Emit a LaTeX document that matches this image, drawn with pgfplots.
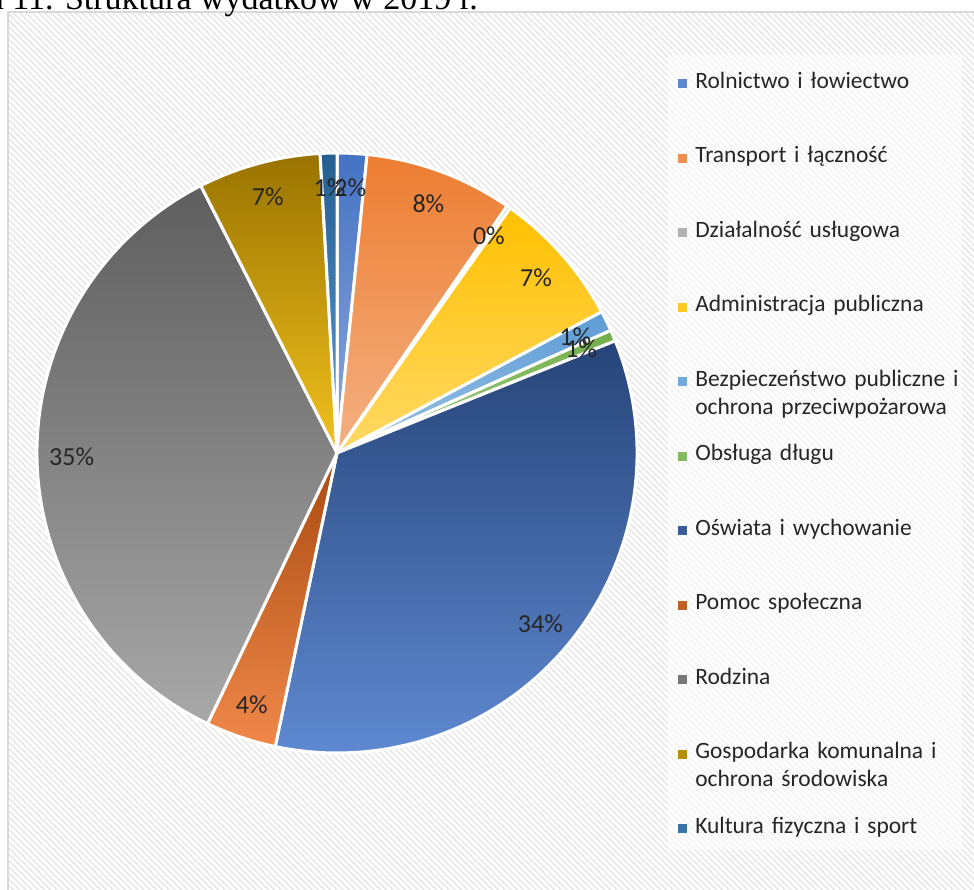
\documentclass[border=0pt]{standalone}
\usepackage{pgfplots}
\pgfplotsset{compat=1.18}
\usepackage{pgfplotstable}
\usepackage{fontspec}
\setmainfont{Carlito}
\newfontfamily\timesfont{Liberation Serif}
\usetikzlibrary{patterns.meta}

\pgfplotstableread[col sep=comma]{
name,value
Rolnictwo i łowiectwo,1.6
Transport i łączność,8.0
Działalność usługowa,0.2
Administracja publiczna,7.4
Bezpieczeństwo publiczne i ochrona przeciwpożarowa,1.1
Obsługa długu,0.6
Oświata i wychowanie,34.4
Pomoc społeczna,3.8
Rodzina,35.4
Gospodarka komunalna i ochrona środowiska,6.6
Kultura fizyczna i sport,0.9
}\piedata

% slice gradient colours: top (t) and bottom (b)
\definecolor{c0t}{HTML}{4472C4}\definecolor{c0b}{HTML}{8FAADC}
\definecolor{c1t}{HTML}{ED7D31}\definecolor{c1b}{HTML}{F4B183}
\definecolor{c2t}{HTML}{A5A5A5}\definecolor{c2b}{HTML}{C9C9C9}
\definecolor{c3t}{HTML}{FFC000}\definecolor{c3b}{HTML}{FFD966}
\definecolor{c4t}{HTML}{5B9BD5}\definecolor{c4b}{HTML}{9DC3E6}
\definecolor{c5t}{HTML}{70AD47}\definecolor{c5b}{HTML}{A9D18E}
\definecolor{c6t}{HTML}{264478}\definecolor{c6b}{HTML}{5F8AD2}
\definecolor{c7t}{HTML}{A84A10}\definecolor{c7b}{HTML}{F0884A}
\definecolor{c8t}{HTML}{5E5E5E}\definecolor{c8b}{HTML}{A8A8A8}
\definecolor{c9t}{HTML}{997300}\definecolor{c9b}{HTML}{F2C21E}
\definecolor{c10t}{HTML}{255E91}\definecolor{c10b}{HTML}{5B9BD5}
\definecolor{labgray}{HTML}{262626}
\definecolor{bordergray}{HTML}{D9D9D9}

\newcommand\labfont{\fontsize{19.5}{22}\selectfont}
\newcommand\legfont{\fontsize{17.6}{21}\selectfont}

\begin{document}
\begin{tikzpicture}[x=0.75pt,y=-0.75pt]
\useasboundingbox (0,0) rectangle (974,889);
\clip (0,0) rectangle (974,889);
% chart area background
\path[fill=white] (8,12) rectangle (1000,1000);
\path[pattern={Lines[angle=-45,distance=3.3pt,line width=1.2pt]},pattern color=black!9] (8,12) rectangle (1000,1000);
\draw[bordergray,line width=1.5pt] (8,12) rectangle (1000,1000);
% title (partly cut off)
\node[anchor=base east,inner sep=0pt,font=\timesfont\fontsize{25.5}{30}\selectfont] at (478,9) {Diagram 11. Struktura wydatków w 2019 r.};
% legend background
\path[fill=white,fill opacity=0.55] (668,55) rectangle (962,850);
\coordinate (pc) at (337,453);

\begin{axis}[hide axis, scale only axis, width=450pt, height=450pt,
  xmin=-1,xmax=1,ymin=-1,ymax=1, at={(pc)}, anchor=center, clip=false]
\def\cum{0}
\pgfplotsforeachungrouped \i in {0,1,...,10}{%
  \pgfplotstablegetelem{\i}{value}\of{\piedata}\let\v\pgfplotsretval
  \pgfmathsetmacro\a{90-3.6*\cum}%
  \pgfmathsetmacro\cum{\cum+\v}%
  \pgfmathsetmacro\b{90-3.6*\cum}%
  \edef\temp{\noexpand\path[draw=white,line width=2.25pt,line join=round,top color=c\i t,bottom color=c\i b]
    (axis cs:0,0) -- ++(\a:225pt) arc[start angle=\a,end angle=\b,radius=225pt] -- cycle;}%
  \temp
}
\def\cum{0}
\pgfplotsforeachungrouped \i in {0,1,...,10}{%
  \pgfplotstablegetelem{\i}{value}\of{\piedata}\let\v\pgfplotsretval
  \pgfmathsetmacro\a{90-3.6*\cum}%
  \pgfmathsetmacro\cum{\cum+\v}%
  \pgfmathsetmacro\b{90-3.6*\cum}%
  \pgfmathsetmacro\m{(\a+\b)/2}%
  \pgfmathtruncatemacro\p{round(\v)}%
  \edef\temp{\noexpand\path (axis cs:0,0) ++(\m:199pt) node[text=labgray,font=\noexpand\labfont,inner sep=0pt] {\p\noexpand\%};}%
  \temp
}
\end{axis}

% legend
\foreach \i in {0,...,10}{
  \pgfplotstablegetelem{\i}{name}\of{\piedata}
  \pgfmathsetmacro\yy{88+74.5*\i}
  \fill[c\i t!65!c\i b] (677.5,\yy-9) rectangle (686.5,\yy);
  \node[anchor=base west,inner sep=0pt,text width=205pt,align=left,font=\legfont,text=labgray] at (695,\yy) {\pgfplotsretval};
}
\end{tikzpicture}
\end{document}
